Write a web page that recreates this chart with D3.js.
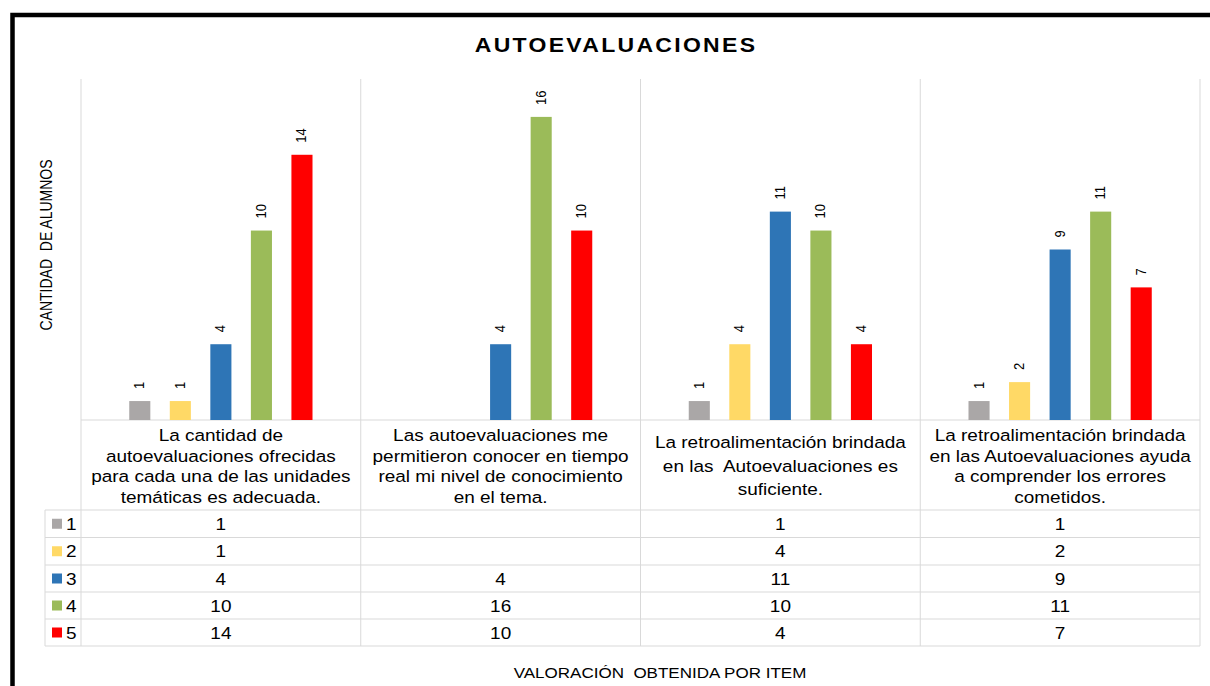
<!DOCTYPE html>
<html>
<head>
<meta charset="utf-8">
<script src="https://cdn.jsdelivr.net/npm/d3@7"></script>
<style>
  body { margin: 0; background: #fff; }
  svg text { font-family: "Liberation Sans", Arial, sans-serif; fill: #000; white-space: pre; }
</style>
</head>
<body>
<div id="chart"></div>
<script>
// categories (lines of each label) and the five series of answers
var categories = [
  ["La cantidad de", "autoevaluaciones ofrecidas", "para cada una de las unidades", "temáticas es adecuada."],
  ["Las autoevaluaciones me", "permitieron conocer en tiempo", "real mi nivel de conocimiento", "en el tema."],
  ["La retroalimentación brindada", "en las  Autoevaluaciones es", "suficiente."],
  ["La retroalimentación brindada", "en las Autoevaluaciones ayuda", "a comprender los errores", "cometidos."]
];
var seriesNames = ["1", "2", "3", "4", "5"];
var seriesColors = ["#aaa7a7", "#ffd966", "#2e75b6", "#9bbb59", "#ff0000"];
var values1 = [1, null, 1, 1];
var values2 = [1, null, 4, 2];
var values3 = [4, 4, 11, 9];
var values4 = [10, 16, 10, 11];
var values5 = [14, 10, 4, 7];
var allValues = [values1, values2, values3, values4, values5];

var width = 1210, height = 686;
var SX = 1.15; // the picture is a bit wider than tall, text is stretched too
var plotLeft = 81, plotRight = 1200, plotTop = 79, plotBottom = 420;
var rowEdges = [510, 537.5, 565, 592, 619, 646];
var legendLeft = 45;
var gridColor = "#d9d9d9";

var svg = d3.select("#chart").append("svg")
  .attr("width", width)
  .attr("height", height);

// text helper, stretched horizontally like the picture
function txt(x, y, s, size, opt) {
  opt = opt || {};
  var tr = "translate(" + x + "," + y + ") scale(" + SX + ",1)" + (opt.rotate ? " rotate(-90)" : "");
  return svg.append("text")
    .attr("transform", tr)
    .attr("xml:space", "preserve")
    .attr("text-anchor", opt.anchor || "middle")
    .style("font-size", size + "px")
    .style("font-weight", opt.bold ? "bold" : "normal")
    .style("letter-spacing", opt.spacing ? opt.spacing + "px" : null)
    .text(s);
}

var x0 = d3.scaleBand()
  .domain(d3.range(categories.length))
  .range([plotLeft, plotRight]);

var x1 = d3.scaleBand()
  .domain(seriesNames)
  .range([0, x0.bandwidth()])
  .paddingInner(0.48)
  .paddingOuter(1.19);

var y = d3.scaleLinear()
  .domain([0, 18])
  .range([plotBottom, plotTop]);

// vertical grid lines through plot, category row and table
var edges = x0.domain().map(function(d) { return x0(d); }).concat([plotRight]);
svg.selectAll(".vgrid")
  .data(edges)
  .enter().append("line")
  .attr("x1", function(d) { return d; })
  .attr("x2", function(d) { return d; })
  .attr("y1", plotTop)
  .attr("y2", rowEdges[rowEdges.length - 1])
  .style("stroke", gridColor);

// baseline / top of category row
svg.append("line")
  .attr("x1", plotLeft).attr("x2", plotRight)
  .attr("y1", plotBottom).attr("y2", plotBottom)
  .style("stroke", gridColor);

// table rows
svg.selectAll(".hrow")
  .data(rowEdges)
  .enter().append("line")
  .attr("x1", legendLeft).attr("x2", plotRight)
  .attr("y1", function(d) { return d; })
  .attr("y2", function(d) { return d; })
  .style("stroke", gridColor);
svg.append("line")
  .attr("x1", legendLeft).attr("x2", legendLeft)
  .attr("y1", rowEdges[0]).attr("y2", rowEdges[rowEdges.length - 1])
  .style("stroke", gridColor);

// bars
seriesNames.forEach(function(name, si) {
  var g = svg.append("g");
  allValues[si].forEach(function(v, ci) {
    if (v == null) return;
    var bx = x0(ci) + x1(name);
    g.append("rect")
      .attr("x", bx)
      .attr("y", y(v))
      .attr("width", x1.bandwidth())
      .attr("height", plotBottom - y(v))
      .style("fill", seriesColors[si]);
    txt(bx + x1.bandwidth() / 2 + 4.5, y(v) - 12, String(v), 13, {rotate: true, anchor: "start"});
  });
});

// category labels
categories.forEach(function(lines, ci) {
  var cx = x0(ci) + x0.bandwidth() / 2;
  var lh = lines.length === 4 ? 20.7 : 23.5;
  var start = lines.length === 4 ? 441 : 448;
  lines.forEach(function(l, li) {
    txt(cx, start + li * lh, l, 16.5);
  });
});

// data table with legend keys
seriesNames.forEach(function(name, si) {
  var top = rowEdges[si], bot = rowEdges[si + 1];
  var mid = (top + bot) / 2;
  svg.append("rect")
    .attr("x", 52).attr("y", mid - 5)
    .attr("width", 10).attr("height", 10)
    .style("fill", seriesColors[si]);
  txt(66, mid + 6, name, 16.5, {anchor: "start"});
  allValues[si].forEach(function(v, ci) {
    if (v == null) return;
    txt(x0(ci) + x0.bandwidth() / 2, mid + 6, String(v), 16.5);
  });
});

// titles
txt(616, 52, "AUTOEVALUACIONES", 20, {bold: true, spacing: 2});
txt(52, 245, "CANTIDAD  DE ALUMNOS", 14, {rotate: true});
txt(660, 678, "VALORACIÓN  OBTENIDA POR ITEM", 14.8);

// outer frame (only top and left sides visible)
svg.append("path")
  .attr("d", "M12.5,700 V15 H1230")
  .style("fill", "none")
  .style("stroke", "#000")
  .style("stroke-width", 4.5);
</script>
</body>
</html>
